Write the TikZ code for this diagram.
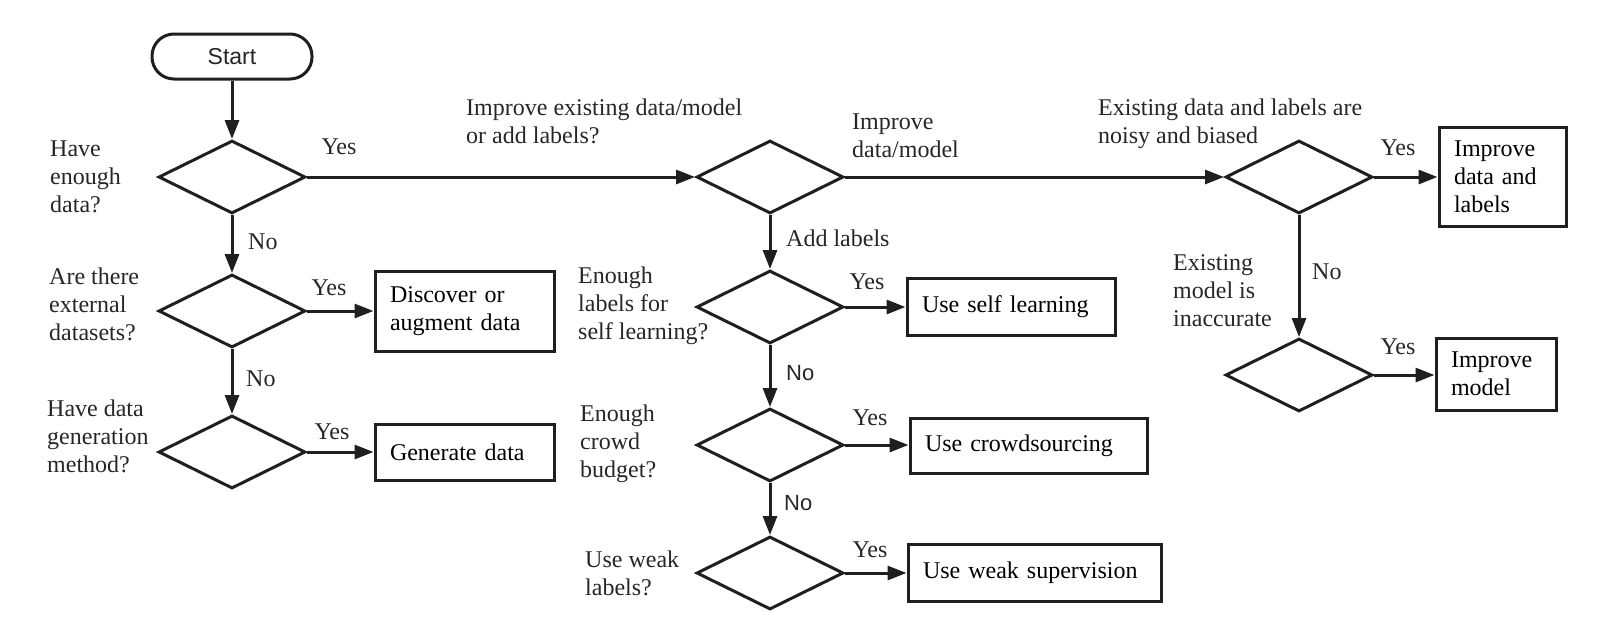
\documentclass[tikz,border=0pt]{standalone}
\usepackage{fontspec}
\setmainfont{Liberation Serif}
\newfontfamily\sansfam{Liberation Sans}
\usetikzlibrary{shapes.geometric,arrows.meta}
\newcommand\fsz{\fontsize{24}{28}\selectfont}
\begin{document}
\begin{tikzpicture}[x=1pt,y=-1pt,
  lw/.style={line width=3pt, draw=black!88},
  dec/.style={shape=diamond, lw, minimum width=147pt, minimum height=73pt, inner sep=0pt},
  act/.style={lw, inner xsep=15pt, inner ysep=0pt, align=left, font=\fsz},
  lab/.style={font=\fsz, inner sep=0pt, align=left, text=black!85},
  sanslab/.style={font=\sansfam\fontsize{22}{26}\selectfont, inner sep=0pt, text=black!85},
  conn/.style={lw, -{Triangle[length=19pt,width=14pt]}}
]
\useasboundingbox (0,0) rectangle (1608,630);

% start
\node[lw, rounded corners=22pt, minimum width=160pt, minimum height=45pt,
      font=\sansfam\fontsize{23}{27}\selectfont, text=black!85] (start) at (232,56.5) {Start};

% decisions
\node[dec] (d1) at (232,177) {};
\node[dec] (d3) at (232,311) {};
\node[dec] (d4) at (232,452) {};
\node[dec] (d2) at (770,177) {};
\node[dec] (d5) at (770,307) {};
\node[dec] (d6) at (770,445) {};
\node[dec] (d7) at (770,573) {};
\node[dec] (d8) at (1299,177) {};
\node[dec] (d9) at (1299,375) {};

% actions
\node[act, text width=149pt, minimum height=80pt] (discover) at (464.5,311) {Discover or\\augment data};
\node[act, text width=149pt, minimum height=56pt] (generate) at (464.5,452) {Generate data};
\node[act, text width=178pt, minimum height=57pt] (self) at (1011,306.5) {Use self learning};
\node[act, text width=207pt, minimum height=55pt] (crowd) at (1028.5,445.5) {Use crowdsourcing};
\node[act, text width=223pt, minimum height=57pt] (weak) at (1034.5,572.5) {Use weak supervision};
\node[act, text width=97pt, minimum height=99pt] (imp1) at (1502.5,176.5) {Improve\\data and\\labels};
\node[act, text width=90pt, minimum height=72pt] (imp2) at (1496,374) {Improve\\model};

% connectors
\draw[conn] (start) -- (d1);
\draw[conn] (d1) -- (d3);
\draw[conn] (d3) -- (d4);
\draw[conn] (d1.east) -- (d2.west);
\draw[conn] (d3.east) -- (discover.west |- d3.east);
\draw[conn] (d4.east) -- (generate.west |- d4.east);
\draw[conn] (d2.east) -- (d8.west);
\draw[conn] (d2) -- (d5);
\draw[conn] (d5) -- (d6);
\draw[conn] (d6) -- (d7);
\draw[conn] (d5.east) -- (self.west |- d5.east);
\draw[conn] (d6.east) -- (crowd.west |- d6.east);
\draw[conn] (d7.east) -- (weak.west |- d7.east);
\draw[conn] (d8.east) -- (imp1.west |- d8.east);
\draw[conn] (d8) -- (d9);
\draw[conn] (d9.east) -- (imp2.west |- d9.east);

% labels
\node[lab, anchor=west] (t1) at (50,177) {Have\\enough\\data?};
\node[lab] (y1) at (339,147) {Yes};
\node[lab, anchor=west] (n1) at (248,242) {No};
\node[lab, anchor=west] (t2) at (49,304) {Are there\\external\\datasets?};
\node[lab] (y2) at (329,288) {Yes};
\node[lab, anchor=west] (n2) at (246,379) {No};
\node[lab, anchor=west] (t3) at (47,436) {Have data\\generation\\method?};
\node[lab] (y3) at (332,432) {Yes};
\node[lab, anchor=west] (t4) at (466,121) {Improve existing data/model\\or add labels?};
\node[lab, anchor=west] (t5) at (852,135.5) {Improve\\data/model};
\node[lab, anchor=west] (t6) at (786,238) {Add labels};
\node[lab, anchor=west] (t7) at (578,306) {Enough\\labels for\\self learning?};
\node[lab] (y4) at (867,282) {Yes};
\node[sanslab, anchor=west] (n3) at (786,373) {No};
\node[lab, anchor=west] (t8) at (580,444) {Enough\\crowd\\budget?};
\node[lab] (y5) at (870,418) {Yes};
\node[sanslab, anchor=west] (n4) at (784,503) {No};
\node[lab, anchor=west] (t9) at (585,573) {Use weak\\labels?};
\node[lab] (y6) at (870,550) {Yes};
\node[lab, anchor=west] (t10) at (1098,124) {Existing data and labels are\\noisy and biased};
\node[lab] (y7) at (1398,148) {Yes};
\node[lab, anchor=west] (n5) at (1312,272) {No};
\node[lab, anchor=west] (t11) at (1173,291) {Existing\\model is\\inaccurate};
\node[lab] (y8) at (1398,347) {Yes};
\end{tikzpicture}
\end{document}
